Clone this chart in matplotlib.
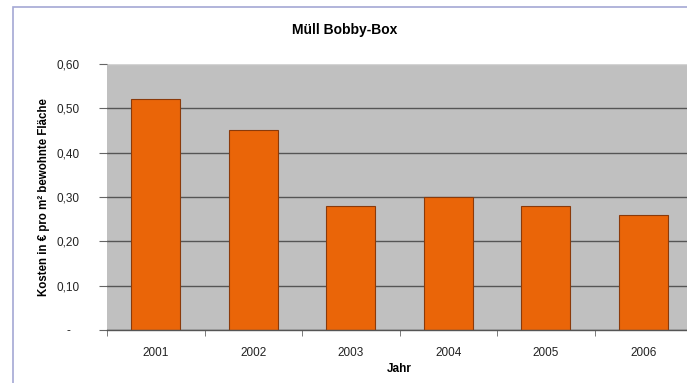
import matplotlib
matplotlib.use("Agg")
import matplotlib.pyplot as plt
from matplotlib.patches import Rectangle
from matplotlib.ticker import FixedLocator, FuncFormatter

plt.rcParams["font.family"] = ["Liberation Sans", "DejaVu Sans"]

years = ["2001", "2002", "2003", "2004", "2005", "2006"]
kosten = [0.52, 0.45, 0.28, 0.30, 0.28, 0.26]
y_ticks = [0.0, 0.1, 0.2, 0.3, 0.4, 0.5, 0.6]

fig = plt.figure(figsize=(6.87, 3.83), dpi=100)
fig.patch.set_facecolor("white")

# chart frame (left and top edges visible)
fig.add_artist(Rectangle((13 / 687, -0.05), 1.2, 1 - 7 / 383 + 0.05,
                         transform=fig.transFigure, fill=False,
                         edgecolor="#a4a8d4", linewidth=1.2))

ax = fig.add_axes([107 / 687, 1 - 330 / 383, 585 / 687, 266 / 383])
ax.set_facecolor("#c0c0c0")

x = range(len(years))
ax.bar(x, kosten, width=0.5, color="#ea6508", edgecolor="#8a3a0a",
       linewidth=0.8, zorder=3)

ax.set_xlim(-0.5, len(years) - 0.5)
ax.set_ylim(0, 0.6)
ax.yaxis.set_major_locator(FixedLocator(y_ticks))
ax.yaxis.set_major_formatter(FuncFormatter(
    lambda v, _: "-" if abs(v) < 1e-9 else f"{v:.2f}".replace(".", ",")))
ax.grid(axis="y", color="#555555", linewidth=1.0, zorder=1)
# the top of the plot area has no dark rule
ax.get_ygridlines()[-1].set_color("#d4d4d4")

ax.set_xticks(list(x))
ax.set_xticklabels(years)
ax.xaxis.set_minor_locator(FixedLocator([i + 0.5 for i in range(-1, len(years))]))
ax.tick_params(axis="x", which="major", length=0, pad=12, labelsize=8.5, colors="#222222")
ax.tick_params(axis="x", which="minor", length=4, color="#666666")
ax.tick_params(axis="y", length=6, color="#666666", pad=22, labelsize=8.5, labelcolor="#222222")
for lbl in ax.get_yticklabels():
    lbl.set_horizontalalignment("center")

for side in ("top", "right", "left"):
    ax.spines[side].set_visible(False)
ax.spines["bottom"].set_color("#555555")
ax.spines["bottom"].set_linewidth(1.0)
ax.spines["bottom"].set_zorder(4)

ax.set_xlabel("Jahr", fontsize=8.5, fontweight="bold", labelpad=3)
ax.set_ylabel("Kosten in € pro m² bewohnte Fläche", fontsize=8.3, fontweight="bold", labelpad=5)
fig.text(345 / 687, 1 - 30 / 383, "Müll Bobby-Box", ha="center", va="center",
         fontsize=10, fontweight="bold")

fig.savefig("out.png", dpi=100)
